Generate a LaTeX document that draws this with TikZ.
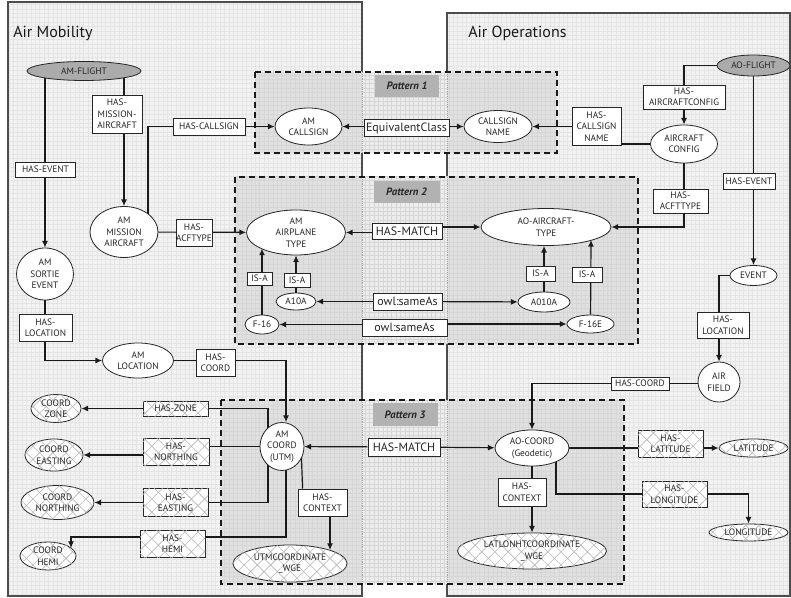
\documentclass[tikz,border=0pt]{standalone}
\usepackage{fontspec}
\setmainfont{PT Sans}
\setsansfont{PT Sans}
\usetikzlibrary{arrows.meta,patterns.meta,calc,shapes.geometric}
\pgfdeclarelayer{bg}
\pgfdeclarelayer{edges}
\pgfsetlayers{bg,edges,main}
\definecolor{panelfill}{HTML}{F2F2F2}
\definecolor{gridc}{HTML}{E4E4E4}
\definecolor{patfill}{HTML}{E0E0E0}
\definecolor{patmid}{HTML}{ECECEC}
\definecolor{patgrid}{HTML}{D6D6D6}
\definecolor{labfill}{HTML}{B2B2B2}
\definecolor{nodegray}{HTML}{ABABAB}
\definecolor{edgec}{HTML}{1A1A1A}
\definecolor{panelline}{HTML}{4D4D4D}
\definecolor{hatchc}{HTML}{B8B8B8}
\tikzset{
  sz/.style 2 args={minimum width=#1*0.75pt, minimum height=#2*0.75pt},
  base/.style={draw=black!85, line width=0.6pt, fill=white, inner sep=0pt, align=center, font=\fontsize{7}{8.6}\selectfont, text=black!85},
  bx/.style={base, rectangle},
  ov/.style={base, ellipse},
  grayov/.style={ov, fill=nodegray},
  hatch/.style={postaction={pattern={Lines[angle=45,distance=7pt,line width=0.45pt]}, pattern color=hatchc}, postaction={pattern={Lines[angle=-45,distance=7pt,line width=0.45pt]}, pattern color=hatchc}},
  bigtxt/.style={font=\fontsize{9}{10}\selectfont},
  plabel/.style={rectangle, fill=labfill, inner sep=0pt, font=\fontsize{8}{9}\selectfont\bfseries\itshape, text=black!85},
  arr/.style={-{Latex[length=5pt,width=4.5pt]}},
  conn/.style={draw=edgec, line width=0.9pt},
  patbox/.style={dash pattern=on 4.5pt off 3pt, line width=1.1pt, draw=black!90},
  ttl/.style={anchor=base west, inner sep=0pt, font=\fontsize{12}{14}\selectfont, text=black!90},
}
\begin{document}
\begin{tikzpicture}[x=0.75pt,y=-0.75pt]
\useasboundingbox (0,0) rectangle (791,598);
% ---------- background ----------
\begin{pgfonlayer}{bg}
\fill[white] (0,0) rectangle (791,598);
\fill[panelfill] (8,2) rectangle (362,596);
\fill[panelfill] (447,13) rectangle (790,596);
\begin{scope}
\clip (8,2) rectangle (362,596) (447,13) rectangle (790,596);
\draw[gridc, line width=0.3pt, xstep=3.3pt, ystep=3.3pt] (0,598) grid (791,0);
\end{scope}
\draw[panelline, line width=0.8pt] (8,2) rectangle (362,596);
\draw[panelline, line width=0.8pt] (447,13) rectangle (790,596);
\foreach \a/\b/\c/\d in {255/72/557/153, 235/177/638/344, 221/400/624/584} {
  \fill[patfill] (\a,\b) rectangle (\c,\d);
  \fill[patmid] (362,\b) rectangle (447,\d);
  \begin{scope}
    \clip (\a,\b) rectangle (\c,\d);
    \draw[patgrid, line width=0.3pt, xstep=3.3pt, ystep=3.3pt] (0,598) grid (791,0);
  \end{scope}
  \draw[gray!70, line width=0.4pt, densely dotted] (362,\b) -- (362,\d) (447,\b) -- (447,\d);
}
\end{pgfonlayer}
% ---------- titles ----------
\node[ttl] (t1) at (13,38) {Air Mobility};
\node[ttl] (t2) at (468,38) {Air Operations};
% ---------- left panel ----------
\node[grayov, sz={114}{19}] (amflight) at (84,71) {AM-FLIGHT};
\node[bx, sz={50}{38}] (hma) at (117,114) {HAS-\\MISSION-\\AIRCRAFT};
\node[bx, sz={72}{17}] (hascs) at (209,126.5) {HAS-CALLSIGN};
\node[bx, sz={60}{15}] (haseventL) at (45.5,169.5) {HAS-EVENT};
\node[ov, sz={68}{51}] (mission) at (124,232) {AM\\MISSION\\AIRCRAFT};
\node[bx, sz={36}{27}] (hasacftype) at (194,232.5) {HAS-\\ACFTYPE};
\node[ov, sz={57}{52}] (sortie) at (45,274) {AM\\SORTIE\\EVENT};
\node[bx, sz={53}{27}] (haslocL) at (45.5,327.5) {HAS-\\LOCATION};
\node[ov, sz={71}{35}] (amloc) at (138,360.5) {AM\\LOCATION};
\node[bx, sz={39}{27}] (hascoordL) at (215.5,362.5) {HAS-\\COORD};
\node[ov, sz={44}{48}] (amcoord) at (282,446.5) {AM\\COORD\\(UTM)};
\node[bx, hatch, sz={65}{15}] (haszone) at (175.5,408.5) {HAS-ZONE};
\node[ov, hatch, sz={50}{28}] (coordzone) at (56,408.5) {COORD\\ZONE};
\node[bx, hatch, sz={66}{27}] (hasnorth) at (176,451.5) {HAS-\\NORTHING};
\node[ov, hatch, sz={58}{32}] (coordeast) at (54,455) {COORD\\EASTING};
\node[bx, hatch, sz={65}{28}] (haseast) at (175.5,502.5) {HAS-\\EASTING};
\node[ov, hatch, sz={73}{34}] (coordnorth) at (57.5,502.5) {COORD\\NORTHING};
\node[bx, hatch, sz={65}{27}] (hashemi) at (172.5,543.5) {HAS-\\HEMI};
\node[ov, hatch, sz={56}{28}] (coordhemi) at (48,556) {COORD\\HEMI};
\node[bx, sz={49}{27}] (hasctxL) at (322.5,502.5) {HAS-\\CONTEXT};
\node[ov, hatch, sz={114}{37}] (utm) at (290,563.5) {UTMCOORDINATE\\\_WGE};
% ---------- pattern 1 ----------
\node[ov, sz={67}{37}] (amcs) at (308.5,126.5) {AM\\CALLSIGN};
\node[bx, bigtxt, sz={85}{17}] (equiv) at (406.5,128) {EquivalentClass};
\node[ov, sz={68}{32}] (csname) at (498,126.5) {CALLSIGN\\NAME};
% ---------- pattern 2 ----------
\node[ov, sz={99}{45}] (airplane) at (296,232.5) {AM\\AIRPLANE\\TYPE};
\node[bx, bigtxt, sz={70}{16}] (hasmatch2) at (407,231) {HAS-MATCH};
\node[ov, sz={130}{37}] (aotype) at (546,227) {AO-AIRCRAFT-\\TYPE};
\node[bx, sz={25}{13}] (isa1) at (259.5,278.5) {IS-A};
\node[bx, sz={26}{14}] (isa2) at (297,280) {IS-A};
\node[ov, sz={40}{17}] (a10a) at (296,301.5) {A10A};
\node[ov, sz={34}{19}] (f16) at (262,324.5) {F-16};
\node[bx, bigtxt, sz={69}{17}] (sameas1) at (407.5,301.5) {owl:sameAs};
\node[bx, bigtxt, sz={85}{17}] (sameas2) at (404.5,327.5) {owl:sameAs};
\node[ov, sz={52}{20}] (a010a) at (544,302) {A010A};
\node[bx, sz={29}{15}] (isa3) at (540.5,273.5) {IS-A};
\node[bx, sz={30}{15}] (isa4) at (587,274.5) {IS-A};
\node[ov, sz={47}{18}] (f16e) at (590.5,324) {F-16E};
% ---------- right panel ----------
\node[grayov, sz={73}{21}] (aoflight) at (753.5,65.5) {AO-FLIGHT};
\node[bx, sz={82}{24}] (hasacfg) at (684,97) {HAS-\\AIRCRAFTCONFIG};
\node[ov, sz={67}{38}] (acfg) at (684,144) {AIRCRAFT\\CONFIG};
\node[bx, sz={49}{38}] (hascsn) at (596.5,126.5) {HAS-\\CALLSIGN\\NAME};
\node[bx, sz={52}{16}] (haseventR) at (749,181) {HAS-EVENT};
\node[bx, sz={55}{24}] (hasacft) at (680.5,201) {HAS-\\ACFTTYPE};
\node[ov, sz={47}{20}] (event) at (753.5,275.5) {EVENT};
\node[bx, sz={52}{26}] (haslocR) at (723,325) {HAS-\\LOCATION};
\node[ov, sz={42}{40}] (airfield) at (719,382) {AIR\\FIELD};
\node[bx, sz={58}{13}] (hascoordR) at (640,383.5) {HAS-COORD};
\node[ov, sz={74}{36}] (aocoord) at (532,448) {AO-COORD\\(Geodetic)};
\node[bx, hatch, sz={65}{27}] (haslat) at (670.5,443.5) {HAS-\\LATITUDE};
\node[ov, hatch, sz={69}{18}] (latitude) at (753.5,448) {LATITUDE};
\node[bx, hatch, sz={65}{26}] (haslong) at (674.5,494) {HAS-\\LONGITUDE};
\node[ov, hatch, sz={79}{17}] (longitude) at (748.5,532.5) {LONGITUDE};
\node[bx, sz={48}{28}] (hasctxR) at (522,492) {HAS-\\CONTEXT};
\node[ov, hatch, sz={149}{36}] (latlon) at (532,551) {LATLONHTCOORDINATE\\\_WGE};
\node[bx, bigtxt, sz={72}{18}] (hasmatch3) at (404,447) {HAS-MATCH};
% ---------- pattern labels ----------
\node[plabel, sz={64}{22}] (p1) at (407,86) {Pattern 1};
\node[plabel, sz={66}{22}] (p2) at (406.5,192) {Pattern 2};
\node[plabel, sz={65}{23}] (p3) at (405,414.5) {Pattern 3};
% ---------- connectors ----------
\begin{pgfonlayer}{edges}
\draw[patbox] (255,72) rectangle (557,153);
\draw[patbox] (235,177) rectangle (638,344);
\draw[patbox] (221,400) rectangle (624,584);
\coordinate (f16tip) at (262,248.5);
\coordinate (f16etip) at (591,240);
\coordinate (hemitip) at (71,548);
\coordinate (utmtip) at (330,550);
\begin{scope}[conn]
\draw[arr] (amflight.center -| sortie) -- (sortie);
\draw[arr] (amflight.center -| mission) -- (mission);
\draw[arr] ($(mission.center)+(24,0)$) |- (hascs.west) -- (hascs.east) -- (amcs);
\draw[arr] (mission) -- (airplane);
\draw[arr] (sortie) |- (amloc);
\draw[arr] (amloc) -| ($(amcoord.north)+(4,0)$);
\draw[arr] ($(amcoord.center)+(-14,0)$) |- (haszone) -- (coordzone);
\draw (amcoord) -- (amcoord -| hasnorth.east);
\draw[arr] (hasnorth.west |- coordeast) -- (coordeast);
\draw[arr] ($(amcoord.center)+(-14,0)$) |- (haseast) -- (coordnorth);
\draw[arr] ($(amcoord.center)+(4,0)$) |- ($(hashemi.east)+(0,-6.5)$) -- ($(hashemi.west)+(0,-6.5)$) -| (hemitip);
\draw ($(amcoord.center)+(19,0)$) -- ($(hasctxL.north west)+(5,0)$);
\draw[arr] ($(hasctxL.south)+(7.5,0)$) -- (utmtip);
\draw[arr] (hasmatch3) -- (amcoord);
\draw[arr] (hasmatch3) -- (aocoord);
\draw[arr] (airfield.west |- hascoordR) -- (hascoordR) -| (aocoord);
\draw[arr] (aocoord) -- (latitude);
\draw[arr] ($(aocoord.center)+(24,0)$) |- (haslong) -| (longitude);
\draw[arr] (aocoord) -- (latlon);
\draw (aoflight) -| (hasacfg);
\draw[arr] (hasacfg) -- (acfg);
\draw (acfg) -- (acfg -| hascsn.east);
\draw[arr] (hascsn) -- (csname);
\draw[arr] (acfg) |- (aotype);
\draw[arr] (aoflight) -- (event);
\draw[arr] (event) -| (airfield);
\draw[arr] (hasmatch2.west |- airplane) -- (airplane);
\draw[arr] (hasmatch2.east |- aotype) -- (aotype);
\draw[arr] (equiv.west |- amcs) -- (amcs);
\draw[arr] (equiv.east |- csname) -- (csname);
\draw[arr] (sameas1) -- (a10a);
\draw[arr] (sameas1) -- (a010a);
\draw[arr] (sameas2.west |- f16) -- (f16);
\draw[arr] (sameas2.east |- f16e) -- (f16e);
\draw[arr] (f16) -- (f16tip);
\draw[arr] (a10a) -- (airplane);
\draw[arr] (a010a) -- (a010a |- aotype.south);
\draw[arr] (f16e) -- (f16etip);
\end{scope}
\end{pgfonlayer}
\end{tikzpicture}
\end{document}
